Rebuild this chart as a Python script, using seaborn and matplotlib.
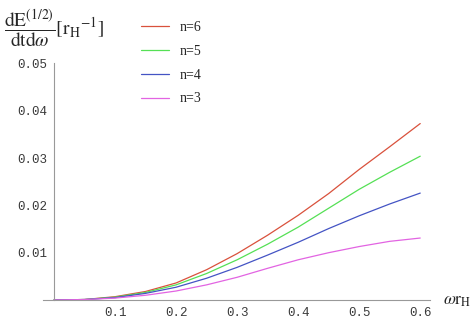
import numpy as np
import pandas as pd
import matplotlib
matplotlib.use("Agg")
import matplotlib.pyplot as plt
import seaborn as sns
from matplotlib.ticker import MultipleLocator

# values
omega = [0.0, 0.05, 0.1, 0.15, 0.2, 0.25, 0.3, 0.35, 0.4, 0.45, 0.5, 0.55, 0.6]
n6 = [0.0, 0.0001, 0.0007, 0.0018, 0.0036, 0.0064, 0.0098, 0.0137, 0.0179, 0.0225, 0.0276, 0.0324, 0.0373]
n5 = [0.0, 0.0001, 0.0006, 0.0016, 0.0032, 0.0056, 0.0085, 0.0118, 0.0154, 0.0194, 0.0234, 0.0270, 0.0304]
n4 = [0.0, 0.0001, 0.0005, 0.0014, 0.0027, 0.0046, 0.0069, 0.0095, 0.0122, 0.0151, 0.0178, 0.0203, 0.0226]
n3 = [0.0, 0.0001, 0.0004, 0.0010, 0.0019, 0.0032, 0.0048, 0.0067, 0.0085, 0.0100, 0.0113, 0.0124, 0.0131]

labels = ["n=6", "n=5", "n=4", "n=3"]
colors = ["#d9513c", "#55e055", "#4454c4", "#e264e2"]

xticks = [0.1, 0.2, 0.3, 0.4, 0.5, 0.6]
xticklabels = ["0.1", "0.2", "0.3", "0.4", "0.5", "0.6"]
yticks = [0.01, 0.02, 0.03, 0.04, 0.05]
yticklabels = ["0.01", "0.02", "0.03", "0.04", "0.05"]

sns.set_style("white")
plt.rcParams["mathtext.fontset"] = "stix"

fig = plt.figure(figsize=(4.72, 3.18), dpi=100)
ax = fig.add_axes([43 / 472, 18 / 318, 387 / 472, 237 / 318])

for vals, lab, col in zip([n6, n5, n4, n3], labels, colors):
    sns.lineplot(x=omega, y=vals, ax=ax, color=col, label=lab, linewidth=0.9)

ax.set_xlim(-0.018, 0.616)
ax.set_ylim(0, 0.0501)

for s in ["top", "right"]:
    ax.spines[s].set_visible(False)
ax.spines["left"].set_position(("data", 0))
for s in ["left", "bottom"]:
    ax.spines[s].set_color("#999999")
    ax.spines[s].set_linewidth(0.8)

ax.set_xticks(xticks)
ax.set_xticklabels(xticklabels)
ax.set_yticks(yticks)
ax.set_yticklabels(yticklabels)
ax.xaxis.set_minor_locator(MultipleLocator(0.02))
ax.yaxis.set_minor_locator(MultipleLocator(0.002))
ax.tick_params(which="both", direction="in", color="#999999", width=0.6,
               labelsize=9, labelcolor="#3a3a3a")
ax.tick_params(which="major", length=4, pad=5)
ax.tick_params(which="minor", length=2.5)
for t in ax.get_xticklabels() + ax.get_yticklabels():
    t.set_family("Liberation Mono")
ax.set_xlabel("")
ax.set_ylabel("")

leg = ax.legend(loc="upper left", bbox_to_anchor=(141 / 472, 1 - 21 / 318),
                bbox_transform=fig.transFigure, frameon=False, borderpad=0,
                borderaxespad=0, handlelength=2.0, handletextpad=0.75,
                labelspacing=0.78, prop={"family": "Liberation Serif", "size": 10})

fig.text(4 / 472, 1 - 29 / 318,
         r"$\dfrac{\mathrm{dE}^{(1/2)}}{\mathrm{dtd}\omega}[\mathrm{r_H}^{-1}]$",
         fontsize=14, ha="left", va="center")
fig.text(443 / 472, 1 - 300 / 318, r"$\omega\mathrm{r}_\mathrm{H}$",
         fontsize=12.5, ha="left", va="center")

fig.savefig("out.png", dpi=100)
